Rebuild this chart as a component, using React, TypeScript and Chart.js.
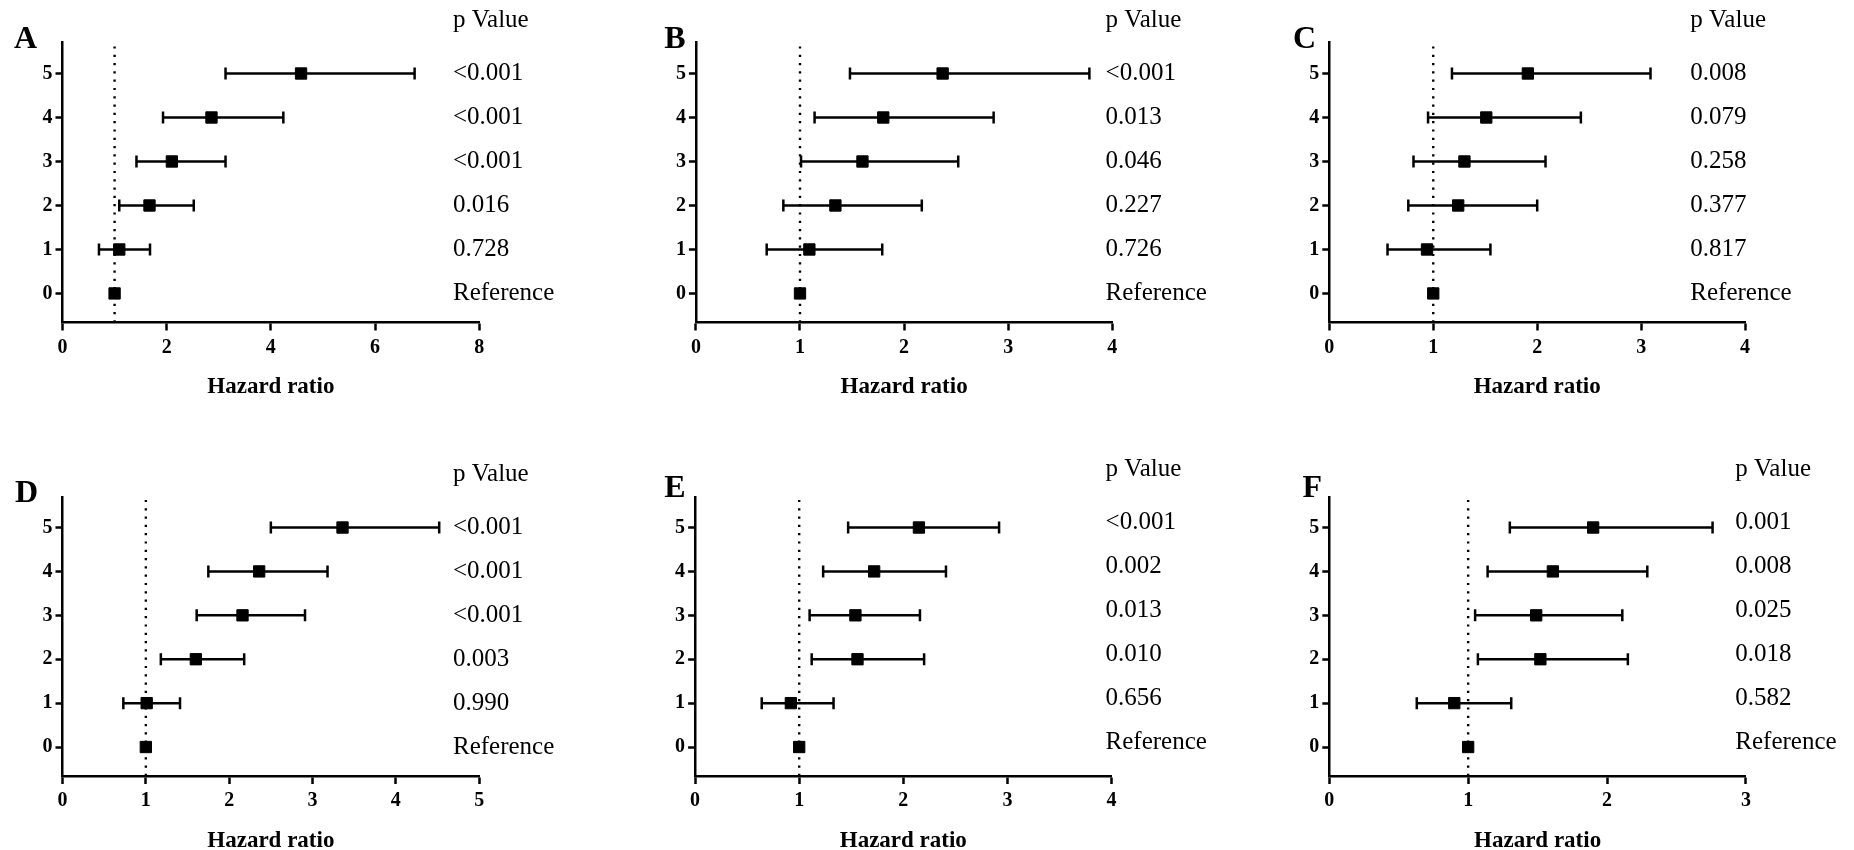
import React, { useEffect, useRef } from 'react';
import { Chart, registerables } from 'chart.js';

Chart.register(...registerables);

const FONT = '"Liberation Serif", "Times New Roman", serif';

// ---- shared data ----
const ROWS = [0, 1, 2, 3, 4, 5];
const Y_TICKS = [0, 1, 2, 3, 4, 5];
const Y_MIN = -0.66;
const Y_MAX = 5.7;
const REF_HR = 1;
const P_HEADER = 'p Value';
const X_TITLE = 'Hazard ratio';

// ---- Panel A ----
const hrA = [1.0, 1.09, 1.67, 2.1, 2.86, 4.58];
const loA = [null, 0.7, 1.09, 1.42, 1.93, 3.13];
const hiA = [null, 1.68, 2.52, 3.13, 4.24, 6.76];
const pA = ['Reference', '0.728', '0.016', '<0.001', '<0.001', '<0.001'];
const xTicksA = [0, 2, 4, 6, 8];

// ---- Panel B ----
const hrB = [1.0, 1.09, 1.34, 1.6, 1.8, 2.37];
const loB = [null, 0.68, 0.84, 1.01, 1.14, 1.48];
const hiB = [null, 1.79, 2.17, 2.52, 2.86, 3.78];
const pB = ['Reference', '0.726', '0.227', '0.046', '0.013', '<0.001'];
const xTicksB = [0, 1, 2, 3, 4];

// ---- Panel C ----
const hrC = [1.0, 0.94, 1.24, 1.3, 1.51, 1.91];
const loC = [null, 0.56, 0.76, 0.81, 0.95, 1.18];
const hiC = [null, 1.55, 2.0, 2.08, 2.42, 3.09];
const pC = ['Reference', '0.817', '0.377', '0.258', '0.079', '0.008'];
const xTicksC = [0, 1, 2, 3, 4];

// ---- Panel D ----
const hrD = [1.0, 1.01, 1.6, 2.16, 2.36, 3.36];
const loD = [null, 0.73, 1.18, 1.61, 1.75, 2.5];
const hiD = [null, 1.41, 2.18, 2.91, 3.18, 4.52];
const pD = ['Reference', '0.990', '0.003', '<0.001', '<0.001', '<0.001'];
const xTicksD = [0, 1, 2, 3, 4, 5];

// ---- Panel E ----
const hrE = [1.0, 0.92, 1.56, 1.54, 1.72, 2.15];
const loE = [null, 0.64, 1.12, 1.1, 1.23, 1.47];
const hiE = [null, 1.33, 2.2, 2.16, 2.41, 2.92];
const pE = ['Reference', '0.656', '0.010', '0.013', '0.002', '<0.001'];
const xTicksE = [0, 1, 2, 3, 4];

// ---- Panel F ----
const hrF = [1.0, 0.9, 1.52, 1.49, 1.61, 1.9];
const loF = [null, 0.63, 1.07, 1.05, 1.14, 1.3];
const hiF = [null, 1.31, 2.15, 2.11, 2.29, 2.76];
const pF = ['Reference', '0.582', '0.018', '0.025', '0.008', '0.001'];
const xTicksF = [0, 1, 2, 3];

const PANELS = [
  { letter: 'A', hr: hrA, lo: loA, hi: hiA, p: pA, xTicks: xTicksA },
  { letter: 'B', hr: hrB, lo: loB, hi: hiB, p: pB, xTicks: xTicksB },
  { letter: 'C', hr: hrC, lo: loC, hi: hiC, p: pC, xTicks: xTicksC },
  { letter: 'D', hr: hrD, lo: loD, hi: hiD, p: pD, xTicks: xTicksD },
  { letter: 'E', hr: hrE, lo: loE, hi: hiE, p: pE, xTicks: xTicksE },
  { letter: 'F', hr: hrF, lo: loF, hi: hiF, p: pF, xTicks: xTicksF },
];

// ---- layout (page pixels) ----
const BOX_W = 618;
const BOX_H = 425;
const Y_AXIS_W = 40;
const X_AXIS_H = 40;
const LAYOUT = [
  { box: [0, 0], area: [62.5, 42.7, 479.2, 322.5], letterX: 14, pX: 453, shift: 0 },
  { box: [618, 0], area: [695.9, 42.7, 1112.3, 322.5], letterX: 664.3, pX: 1105.6, shift: 0 },
  { box: [1236, 0], area: [1329.3, 42.7, 1745.1, 322.5], letterX: 1292.9, pX: 1690.3, shift: 0 },
  { box: [0, 425], area: [62.5, 496.8, 479.2, 776], letterX: 15, pX: 453, shift: 0 },
  { box: [618, 425], area: [695.1, 496.8, 1111.5, 776], letterX: 664.3, pX: 1105.6, shift: -5 },
  { box: [1236, 425], area: [1329.3, 496.8, 1745.9, 776], letterX: 1302.6, pX: 1735.3, shift: -5 },
];

function Panel({ idx }: { idx: number }) {
  const ref = useRef<HTMLCanvasElement | null>(null);
  const L = LAYOUT[idx];

  useEffect(() => {
    const P = PANELS[idx];
    const [bx, by] = L.box;
    const [cl, ct, cr, cb] = L.area;

    const datasets: any[] = [];
    datasets.push({
      label: 'HR',
      data: ROWS.map((r) => ({ x: P.hr[r], y: r })),
      showLine: false,
      pointStyle: 'rect',
      pointRadius: 8,
      pointHoverRadius: 8,
      backgroundColor: '#000',
      borderColor: '#000',
      borderWidth: 1,
    });
    ROWS.forEach((r) => {
      if (P.lo[r] == null) return;
      datasets.push({
        label: 'CI' + r,
        data: [
          { x: P.lo[r], y: r },
          { x: P.hi[r], y: r },
        ],
        showLine: true,
        borderColor: '#000',
        borderWidth: 2.5,
        pointStyle: 'line',
        pointRotation: 90,
        pointRadius: 6,
        pointHoverRadius: 6,
        pointBorderWidth: 2.5,
        pointBorderColor: '#000',
        pointBackgroundColor: '#000',
      });
    });
    datasets.push({
      label: 'ref',
      data: [
        { x: REF_HR, y: Y_MIN },
        { x: REF_HR, y: Y_MAX },
      ],
      showLine: true,
      borderColor: '#000',
      borderWidth: 2.4,
      borderDash: [2.2, 6.1],
      pointRadius: 0,
      pointHoverRadius: 0,
    });

    const textPlugin = {
      id: 'forestText' + idx,
      afterDraw(chart: any) {
        const { ctx, chartArea, scales } = chart;
        const ys = scales.y;
        ctx.save();
        ctx.fillStyle = '#000';
        // p values
        ctx.font = `25px ${FONT}`;
        ctx.textAlign = 'left';
        ctx.textBaseline = 'middle';
        const px = L.pX - bx;
        ROWS.forEach((r) => {
          ctx.fillText(P.p[r], px, ys.getPixelForValue(r) + L.shift);
        });
        ctx.fillText(P_HEADER, px, ys.getPixelForValue(5) - 53 + L.shift);
        // x title
        ctx.font = `bold 23px ${FONT}`;
        ctx.textAlign = 'center';
        ctx.textBaseline = 'alphabetic';
        ctx.fillText(X_TITLE, (chartArea.left + chartArea.right) / 2, chartArea.bottom + 70.5);
        // letter
        ctx.font = `bold 32px ${FONT}`;
        ctx.textAlign = 'left';
        ctx.fillText(P.letter, L.letterX - bx, chartArea.top + 5.6 + L.shift);
        ctx.restore();
      },
    };

    const tickFont = { family: FONT, size: 20, weight: 'bold' as const };

    const chart = new Chart(ref.current as HTMLCanvasElement, {
      type: 'scatter',
      data: { datasets },
      options: {
        responsive: false,
        maintainAspectRatio: false,
        animation: false,
        events: [],
        layout: {
          padding: {
            left: cl - bx - Y_AXIS_W,
            top: ct - by,
            right: bx + BOX_W - cr,
            bottom: by + BOX_H - cb - X_AXIS_H,
          },
        },
        plugins: {
          legend: { display: false },
          tooltip: { enabled: false },
        },
        scales: {
          x: {
            type: 'linear',
            min: P.xTicks[0],
            max: P.xTicks[P.xTicks.length - 1],
            afterBuildTicks: (s: any) => {
              s.ticks = P.xTicks.map((v) => ({ value: v }));
            },
            afterFit: (s: any) => {
              s.height = X_AXIS_H;
            },
            ticks: {
              color: '#000',
              font: tickFont,
              padding: 5,
              maxRotation: 0,
              autoSkip: false,
            },
            grid: {
              display: true,
              drawOnChartArea: false,
              drawTicks: true,
              tickLength: 8,
              tickWidth: 2.5,
              tickColor: '#000',
            },
            border: { display: true, color: '#000', width: 2.5 },
          },
          y: {
            type: 'linear',
            min: Y_MIN,
            max: Y_MAX,
            afterBuildTicks: (s: any) => {
              s.ticks = Y_TICKS.map((v) => ({ value: v }));
            },
            afterFit: (s: any) => {
              s.width = Y_AXIS_W;
            },
            ticks: {
              color: '#000',
              font: tickFont,
              padding: 3,
              autoSkip: false,
            },
            grid: {
              display: true,
              drawOnChartArea: false,
              drawTicks: true,
              tickLength: 7,
              tickWidth: 2.5,
              tickColor: '#000',
            },
            border: { display: true, color: '#000', width: 2.5 },
          },
        },
      } as any,
      plugins: [textPlugin],
    });
    return () => chart.destroy();
  }, [idx]);

  return (
    <canvas
      ref={ref}
      width={BOX_W}
      height={BOX_H}
      style={{ position: 'absolute', left: L.box[0], top: L.box[1], width: BOX_W, height: BOX_H }}
    />
  );
}

export default function App() {
  return (
    <div
      style={{
        position: 'fixed',
        left: 0,
        top: 0,
        width: 1854,
        height: 850,
        background: '#fff',
        overflow: 'hidden',
      }}
    >
      {PANELS.map((_, i) => (
        <Panel key={i} idx={i} />
      ))}
    </div>
  );
}
